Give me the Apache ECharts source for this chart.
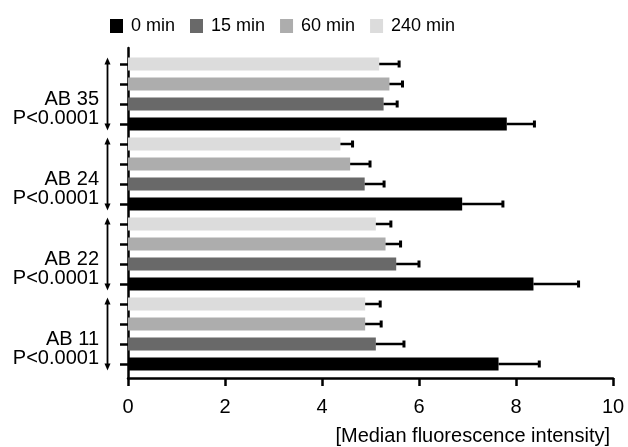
<!DOCTYPE html>
<html>
<head>
<meta charset="utf-8">
<script src="https://cdn.jsdelivr.net/npm/echarts@6/dist/echarts.min.js"></script>
<style>html,body{margin:0;padding:0;background:#fff;}#chart{width:628px;height:447px;}</style>
</head>
<body>
<div id="chart"></div>
<script>
// groups from bottom to top, as the category axis draws them
var groups = ['AB 11', 'AB 22', 'AB 24', 'AB 35'];
var pValues = ['P<0.0001', 'P<0.0001', 'P<0.0001', 'P<0.0001'];
var seriesNames = ['0 min', '15 min', '60 min', '240 min'];
var min0 = [7.64, 8.36, 6.89, 7.81];
var min15 = [5.11, 5.53, 4.88, 5.27];
var min60 = [4.89, 5.31, 4.58, 5.39];
var min240 = [4.89, 5.11, 4.38, 5.18];
var err0 = [0.84, 0.93, 0.84, 0.57];
var err15 = [0.58, 0.47, 0.40, 0.28];
var err60 = [0.33, 0.31, 0.41, 0.27];
var err240 = [0.31, 0.31, 0.25, 0.41];
var xTicks = [0, 2, 4, 6, 8, 10];

var font = 'Liberation Sans, Arial, Helvetica, sans-serif';
var colors = {'0 min': '#000000', '15 min': '#696969', '60 min': '#adadad', '240 min': '#dcdcdc'};
var values = {'0 min': min0, '15 min': min15, '60 min': min60, '240 min': min240};
var errors = {'0 min': err0, '15 min': err15, '60 min': err60, '240 min': err240};
// top-to-bottom order inside each group
var barOrder = ['240 min', '60 min', '15 min', '0 min'];

var $each = function(a, f){ for (var i = 0; i < a.length; i++) f(i, a[i]); };
var slots = [];
$each(groups, function(i){ $each(barOrder, function(){ slots.push(''); }); });

var series = [];
$each(barOrder, function(k, n){
    series.push({type: 'bar', name: n, xAxisIndex: 0, yAxisIndex: 0, data: values[n],
        barWidth: 13, barGap: '54%', itemStyle: {color: colors[n]}, silent: true});
});
$each(barOrder, function(k, n){
    var d = [];
    $each(values[n], function(i, v){ d.push([v, i, errors[n][i]]); });
    series.push({type: 'custom', name: n + ' err', xAxisIndex: 0, yAxisIndex: 0, data: d, silent: true, z: 5,
        renderItem: function(params, api){
            var v = api.value(0), idx = api.value(1), e = api.value(2);
            var p0 = api.coord([v, idx]), p1 = api.coord([v + e, idx]);
            var band = api.size([0, 1])[1];
            var y = p0[1] + (k - 1.5) * band / 4;
            return {type: 'group', children: [
                {type: 'line', shape: {x1: p0[0], y1: y, x2: p1[0], y2: y}, style: {stroke: '#000', lineWidth: 2.5}},
                {type: 'line', shape: {x1: p1[0], y1: y - 3.5, x2: p1[0], y2: y + 3.5}, style: {stroke: '#000', lineWidth: 3}}
            ]};
        }});
});
// double-headed arrows spanning each group
series.push({type: 'custom', name: 'arrows', xAxisIndex: 0, yAxisIndex: 0, clip: false, silent: true,
    data: groups.map(function(g, i){ return [0, i]; }),
    renderItem: function(params, api){
        var p = api.coord([0, api.value(1)]);
        var band = api.size([0, 1])[1];
        var x = p[0] - 20.5, top = p[1] - band / 2 + 3.5, bot = p[1] + band / 2 - 3.5;
        return {type: 'group', children: [
            {type: 'line', shape: {x1: x, y1: top + 4, x2: x, y2: bot - 4}, style: {stroke: '#000', lineWidth: 1.8}},
            {type: 'polygon', shape: {points: [[x, top], [x - 3, top + 7], [x + 3, top + 7]]}, style: {fill: '#000'}},
            {type: 'polygon', shape: {points: [[x, bot], [x - 3, bot - 7], [x + 3, bot - 7]]}, style: {fill: '#000'}}
        ]};
    }});

var chart = echarts.init(document.getElementById('chart'));
chart.setOption({
    animation: false,
    textStyle: {fontFamily: font, color: '#000'},
    legend: {data: seriesNames, left: 105, top: 12, icon: 'rect', itemWidth: 13, itemHeight: 14, itemGap: 15,
        selectedMode: false, textStyle: {fontFamily: font, fontSize: 18, color: '#000', padding: [0, 0, 0, 3]}},
    grid: [
        {left: 128, right: 15, top: 54, bottom: 73},
        {left: 128, right: 15, top: 48, bottom: 69}
    ],
    xAxis: [
        {gridIndex: 0, type: 'value', min: 0, max: 10, show: false},
        {gridIndex: 1, type: 'value', min: xTicks[0], max: xTicks[xTicks.length - 1], interval: 2,
            axisLine: {lineStyle: {color: '#000', width: 2.5}},
            axisTick: {length: 8, lineStyle: {color: '#000', width: 2.5}},
            axisLabel: {fontSize: 20, color: '#000', margin: 19, fontFamily: font},
            splitLine: {show: false},
            name: '[Median fluorescence intensity]', nameLocation: 'end', nameGap: -3,
            nameTextStyle: {fontSize: 20, color: '#000', fontFamily: font, align: 'right', verticalAlign: 'top', padding: [48, 0, 0, 0]}}
    ],
    yAxis: [
        {gridIndex: 0, type: 'category', data: groups, position: 'left', axisLine: {show: false}, axisTick: {show: false},
            axisLabel: {color: '#000', margin: 29, fontFamily: font,
                formatter: function(v, i){ return '{s| }\n{a|' + v + '}\n{a|' + pValues[i] + '}'; },
                rich: {s: {fontSize: 4, lineHeight: 30}, a: {fontSize: 20, lineHeight: 19, align: 'right', fontFamily: font, color: '#000'}}}},
        {gridIndex: 0, type: 'category', data: slots, position: 'left', axisLine: {show: false},
            axisTick: {show: true, alignWithLabel: true, length: 8, lineStyle: {color: '#000', width: 2.5}},
            axisLabel: {show: false}},
        {gridIndex: 1, type: 'value', min: 0, max: 1, position: 'left', axisLine: {show: true, lineStyle: {color: '#000', width: 2.5}},
            axisTick: {show: false}, axisLabel: {show: false}, splitLine: {show: false}}
    ],
    series: series
});
</script>
</body>
</html>
